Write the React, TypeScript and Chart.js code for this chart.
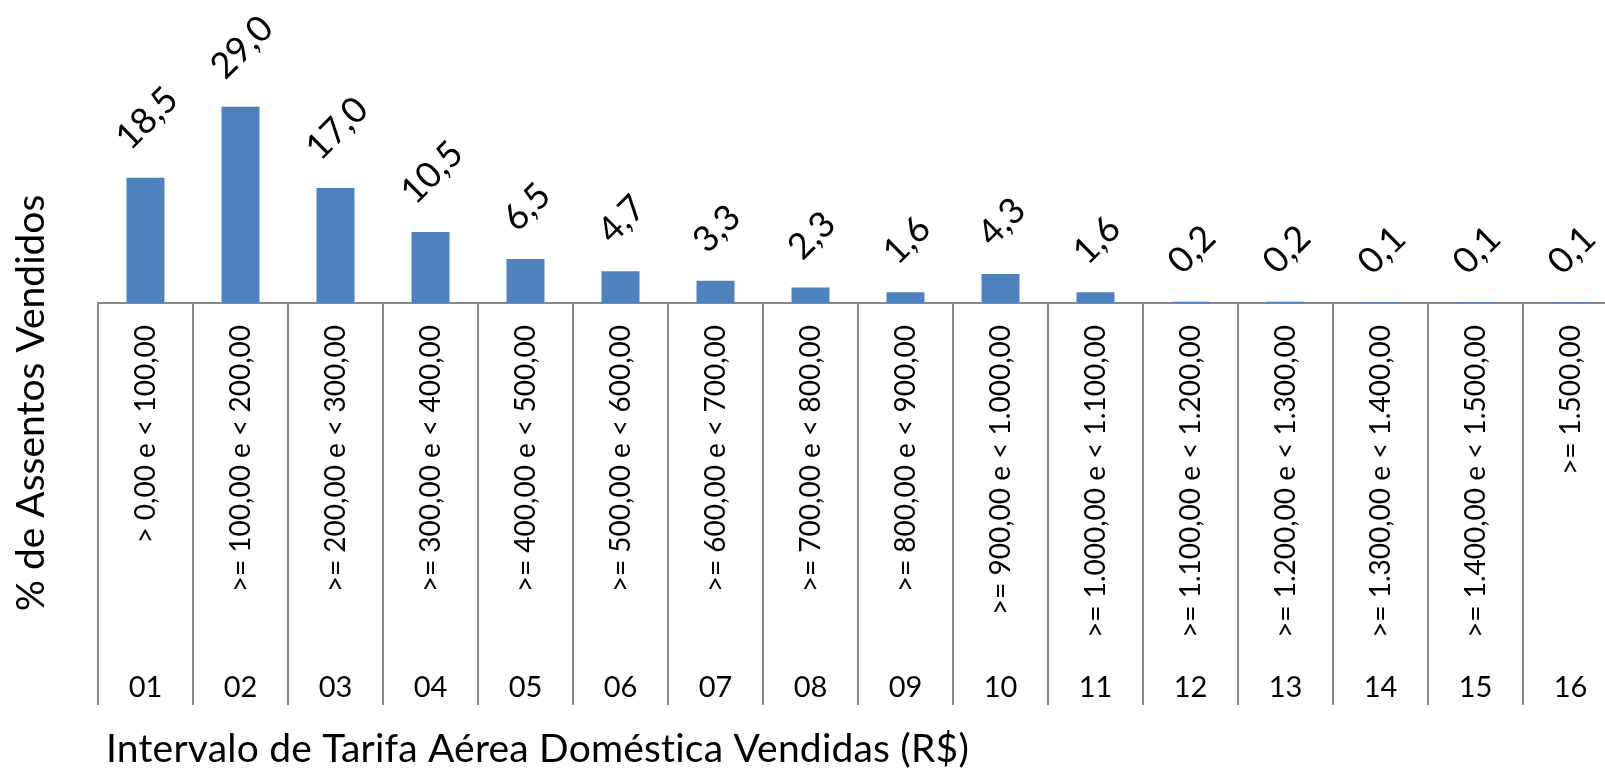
import React, { useEffect, useRef } from "react";
import { Chart, registerables } from "chart.js";

Chart.register(...registerables);

const rangeLabels = [
  "> 0,00 e < 100,00",
  ">= 100,00 e < 200,00",
  ">= 200,00 e < 300,00",
  ">= 300,00 e < 400,00",
  ">= 400,00 e < 500,00",
  ">= 500,00 e < 600,00",
  ">= 600,00 e < 700,00",
  ">= 700,00 e < 800,00",
  ">= 800,00 e < 900,00",
  ">= 900,00 e < 1.000,00",
  ">= 1.000,00 e < 1.100,00",
  ">= 1.100,00 e < 1.200,00",
  ">= 1.200,00 e < 1.300,00",
  ">= 1.300,00 e < 1.400,00",
  ">= 1.400,00 e < 1.500,00",
  ">= 1.500,00",
];

const numberLabels = ["01", "02", "03", "04", "05", "06", "07", "08", "09", "10", "11", "12", "13", "14", "15", "16"];

const seatShare = [18.5, 29.0, 17.0, 10.5, 6.5, 4.7, 3.3, 2.3, 1.6, 4.3, 1.6, 0.2, 0.2, 0.1, 0.1, 0.1];

const yTitle = "% de Assentos Vendidos";
const xTitle = "Intervalo de Tarifa Aérea Doméstica Vendidas (R$)";

const FONT = "Lato, 'Open Sans', 'DejaVu Sans', sans-serif";
const GRID = "#898989";
const BAR = "#4F81BD";

const valueLabels = {
  id: "valueLabels",
  afterDatasetsDraw(chart: any) {
    const meta = chart.getDatasetMeta(0);
    const ctx = chart.ctx;
    ctx.save();
    ctx.font = `36px ${FONT}`;
    ctx.fillStyle = "#000";
    ctx.textAlign = "center";
    ctx.textBaseline = "middle";
    meta.data.forEach((bar: any, i: number) => {
      const text = seatShare[i].toFixed(1).replace(".", ",");
      const w = ctx.measureText(text).width;
      const off = 25 + ((w + 26) * Math.SQRT1_2) / 2;
      ctx.save();
      ctx.translate(bar.x + 1.5, bar.y - off);
      ctx.rotate(-Math.PI / 4);
      ctx.fillText(text, 0, 0);
      ctx.restore();
    });
    ctx.restore();
  },
};

const axisTitles = {
  id: "axisTitles",
  afterDraw(chart: any) {
    const ctx = chart.ctx;
    ctx.save();
    ctx.font = `39px ${FONT}`;
    ctx.fillStyle = "#000";
    ctx.textBaseline = "alphabetic";

    ctx.save();
    ctx.textAlign = "center";
    ctx.translate(43.5, 403);
    ctx.rotate(-Math.PI / 2);
    ctx.fillText(yTitle, 0, 0);
    ctx.restore();

    ctx.textAlign = "left";
    try {
      (ctx as any).letterSpacing = "0.2px";
    } catch (e) {}
    ctx.fillText(xTitle, 106, 762);
    ctx.restore();
  },
};

export default function App() {
  const ref = useRef<HTMLCanvasElement | null>(null);

  useEffect(() => {
    if (!ref.current) return;
    const chart = new Chart(ref.current, {
      type: "bar",
      data: {
        labels: rangeLabels,
        datasets: [
          {
            data: seatShare,
            backgroundColor: BAR,
            borderWidth: 0,
            barPercentage: 0.4,
            categoryPercentage: 1,
            xAxisID: "x",
            yAxisID: "y",
          },
        ],
      },
      options: {
        responsive: false,
        animation: false,
        devicePixelRatio: 1,
        events: [],
        layout: { padding: { left: 0, right: 2, top: 0, bottom: 0 } },
        plugins: { legend: { display: false }, tooltip: { enabled: false } },
        scales: {
          x: {
            type: "category",
            position: "bottom",
            weight: 1,
            offset: true,
            afterFit: (s: any) => {
              s.height = 343;
            },
            grid: {
              offset: true,
              drawOnChartArea: false,
              drawTicks: true,
              tickLength: 343,
              color: GRID,
              lineWidth: 2,
            },
            border: { display: true, color: GRID, width: 2 },
            ticks: {
              autoSkip: false,
              minRotation: 90,
              maxRotation: 90,
              padding: -321,
              color: "#000",
              font: { family: FONT, size: 28 },
            },
          },
          x2: {
            type: "category",
            labels: numberLabels,
            position: "bottom",
            weight: 2,
            offset: true,
            afterFit: (s: any) => {
              s.height = 125;
            },
            grid: {
              offset: true,
              drawOnChartArea: false,
              drawTicks: true,
              tickLength: 59,
              color: GRID,
              lineWidth: 2,
            },
            border: { display: false },
            ticks: {
              autoSkip: false,
              maxRotation: 0,
              minRotation: 0,
              padding: -35,
              color: "#000",
              font: { family: FONT, size: 29 },
            },
          },
          y: {
            type: "linear",
            min: 0,
            max: 44.75,
            afterFit: (s: any) => {
              s.width = 98;
            },
            grid: { display: false },
            border: { display: false },
            ticks: { display: false },
          },
        },
      },
      plugins: [valueLabels, axisTitles],
    } as any);
    return () => chart.destroy();
  }, []);

  return (
    <div
      style={{
        position: "fixed",
        left: 0,
        top: 0,
        width: "1605px",
        height: "771px",
        overflow: "hidden",
        background: "#fff",
      }}
    >
      <canvas ref={ref} width={1620} height={771} style={{ display: "block", width: "1620px", height: "771px" }} />
    </div>
  );
}
